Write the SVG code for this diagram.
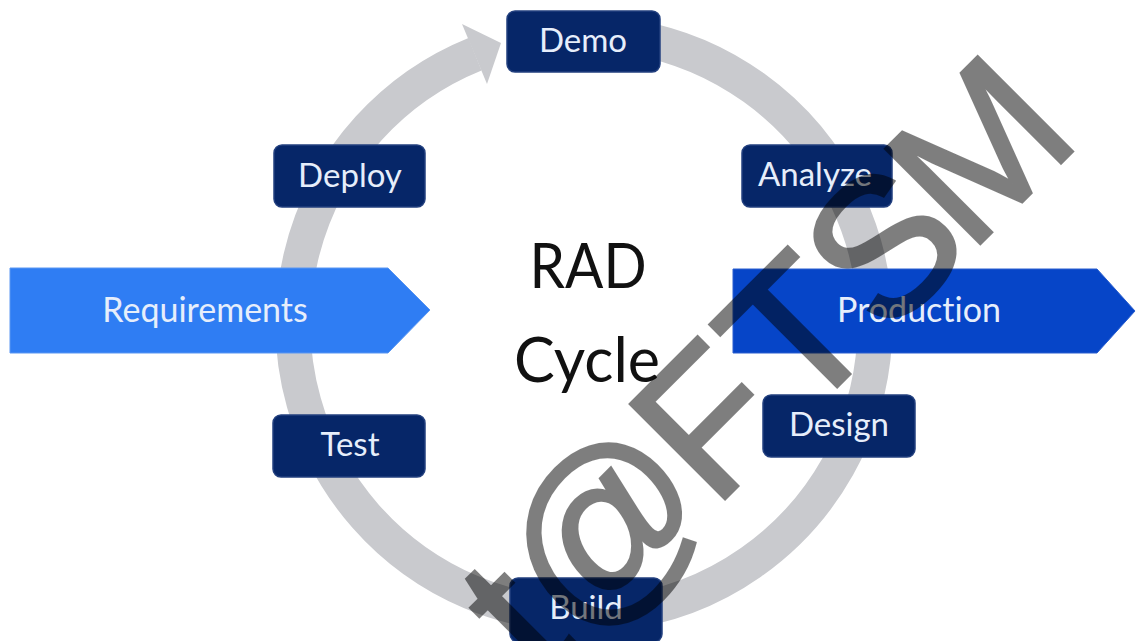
<svg xmlns="http://www.w3.org/2000/svg" width="1137" height="641" viewBox="0 0 1137 641">
  <style>
    .box { fill: #062668; stroke: #23407f; stroke-width: 1.5; }
    .lbl { font-family: Lato, "Open Sans", "Liberation Sans", sans-serif; font-size: 33px; fill: #e6eefb; text-anchor: middle; font-variant-ligatures: none; font-feature-settings: "liga" 0, "clig" 0; }
    .arr { font-size: 34px; }
    .big { font-family: Lato, "Open Sans", "Liberation Sans", sans-serif; font-size: 61px; fill: #111; text-anchor: middle; }
    .ring { fill: none; stroke: #c9cace; stroke-width: 35; }
    .wm { font-family: "Liberation Sans", Arial, sans-serif; font-size: 195px; fill: #000; stroke: #000; stroke-width: 3; stroke-linejoin: miter; }
  </style>
  <rect width="1137" height="641" fill="#ffffff"/>
  <g id="connectors">
    <path class="ring" d="M 634.5 37.4 A 291 291 0 1 1 475 54.2"/>
    <polygon points="462,24 501,43 487,84" fill="#c9cace"/>
  </g>
  <g id="requirements">
    <polygon points="10,268 388,268 430,310 388,353 10,353" fill="#2f7df3" stroke="#5a97f2" stroke-width="1"/>
    <text class="lbl arr" x="205" y="322">Requirements</text>
  </g>
  <g id="production">
    <polygon points="733,269 1097,269 1135,311 1097,353 733,353" fill="#0645c8" stroke="#2a5fcf" stroke-width="1"/>
    <text class="lbl arr" x="919" y="322">Production</text>
  </g>
  <g id="demo">
    <rect class="box" x="507" y="11" width="153" height="61" rx="8"/>
    <text class="lbl" x="583" y="52">Demo</text>
  </g>
  <g id="deploy">
    <rect class="box" x="274" y="145" width="151" height="62" rx="8"/>
    <text class="lbl" x="350" y="187">Deploy</text>
  </g>
  <g id="analyze">
    <rect class="box" x="742" y="145" width="150" height="62" rx="8"/>
    <text class="lbl" x="815" y="186">Analyze</text>
  </g>
  <g id="test">
    <rect class="box" x="273" y="415" width="152" height="62" rx="8"/>
    <text class="lbl" x="350" y="456">Test</text>
  </g>
  <g id="design">
    <rect class="box" x="763" y="395" width="152" height="62" rx="8"/>
    <text class="lbl" x="839" y="436">Design</text>
  </g>
  <g id="build">
    <rect class="box" x="510" y="578" width="152" height="64" rx="8"/>
    <text class="lbl" x="586" y="619">Build</text>
  </g>
  <g id="title">
    <text class="big" x="588" y="288" textLength="117" lengthAdjust="spacingAndGlyphs">RAD</text>
    <text class="big" x="587" y="382">Cycle</text>
  </g>
  <g id="watermark" opacity="0.5">
    <text class="wm" transform="translate(612,612) rotate(-45)" x="-100 -46 144 268 386 505" y="0">t@FTSM</text>
  </g>
</svg>
